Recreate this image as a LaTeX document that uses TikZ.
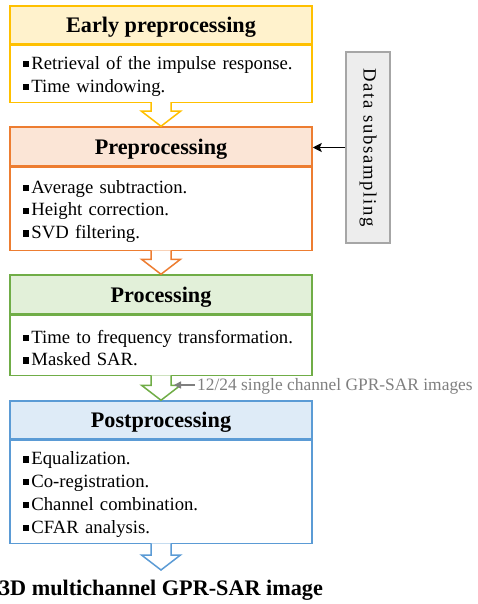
\documentclass[tikz,border=0pt]{standalone}
\usepackage{fontspec}
\setmainfont{Liberation Serif}
\newfontfamily\spacedfont[LetterSpace=9]{Liberation Serif}
\usetikzlibrary{calc,arrows.meta}
\definecolor{yelB}{HTML}{FFC000}\definecolor{yelF}{HTML}{FFF2CC}
\definecolor{orgB}{HTML}{ED7D31}\definecolor{orgF}{HTML}{FBE5D6}
\definecolor{grnB}{HTML}{70AD47}\definecolor{grnF}{HTML}{E2F0D9}
\definecolor{bluB}{HTML}{5B9BD5}\definecolor{bluF}{HTML}{DEEBF7}
\definecolor{dsB}{HTML}{A6A6A6}\definecolor{dsF}{HTML}{EDEDED}
\definecolor{lblG}{HTML}{7F7F7F}
\newcommand{\sqb}{\rule[0.12em]{0.33em}{0.33em}\hspace{0.12em}}
\newcommand{\blockarr}[3]{%
  \draw[#3, line width=1.5pt, fill=white, line join=miter]
    ($(#1.south)+(-10,-1)$) -- ($(#2.north)+(-10,-15)$) -- ($(#2.north)+(-19.5,-15)$)
    -- (#2.north) -- ($(#2.north)+(19.5,-15)$) -- ($(#2.north)+(10,-15)$)
    -- ($(#1.south)+(10,-1)$);}
\tikzset{
  hdr/.style={draw=#1, line width=1.5pt, minimum width=302pt, inner sep=0pt, text depth=0pt,
    font=\fontsize{22.2}{26}\selectfont\bfseries},
  body/.style={draw=#1, line width=1.5pt, fill=white, anchor=north, minimum width=302pt, inner sep=0pt},
  btext/.style={inner sep=0pt, text width=276pt, align=left, yshift=-2.5pt,
    font=\fontsize{18.7}{22.8}\selectfont},
}
\begin{document}
\begin{tikzpicture}[x=1pt,y=-1pt]
\useasboundingbox (0,0) rectangle (477,604);
% box 1
\node[hdr=yelB, fill=yelF, minimum height=38pt] (h1) at (161,25) {Early preprocessing};
\node[body=yelB, minimum height=57pt] (b1) at (h1.south) {};
\node[btext] (t1) at (b1.center) {\sqb Retrieval of the impulse response.\\\sqb Time windowing.};
% box 2
\node[hdr=orgB, fill=orgF, minimum height=39pt] (h2) at (161,146.5) {Preprocessing};
\node[body=orgB, minimum height=83pt] (b2) at (h2.south) {};
\node[btext] (t2) at (b2.center) {\sqb Average subtraction.\\\sqb Height correction.\\\sqb SVD filtering.};
% box 3
\node[hdr=grnB, fill=grnF, minimum height=39pt] (h3) at (161,294.5) {Processing};
\node[body=grnB, minimum height=60pt] (b3) at (h3.south) {};
\node[btext] (t3) at (b3.center) {\sqb Time to frequency transformation.\\\sqb Masked SAR.};
% box 4
\node[hdr=bluB, fill=bluF, minimum height=38pt] (h4) at (161,420) {Postprocessing};
\node[body=bluB, minimum height=103pt] (b4) at (h4.south) {};
\node[btext] (t4) at (b4.center) {\sqb Equalization.\\\sqb Co-registration.\\\sqb Channel combination.\\\sqb CFAR analysis.};
% output
\node[font=\fontsize{22.2}{26}\selectfont\bfseries] (out) at (161,590) {3D multichannel GPR-SAR image};
\coordinate (outtop) at (161,570);
% block arrows
\blockarr{b1}{h2}{yelB}
\blockarr{b2}{h3}{orgB}
\blockarr{b3}{h4}{grnB}
\draw[bluB, line width=1.5pt, fill=white, line join=miter]
    ($(b4.south)+(-10,-1)$) -- ($(outtop)+(-10,-15)$) -- ($(outtop)+(-19.5,-15)$)
    -- (outtop) -- ($(outtop)+(19.5,-15)$) -- ($(outtop)+(10,-15)$)
    -- ($(b4.south)+(10,-1)$);
% data subsampling
\node[rotate=-90, draw=dsB, fill=dsF, line width=1.5pt, minimum width=191pt, minimum height=44pt,
  inner sep=0pt, font=\fontsize{18.7}{22}\selectfont\spacedfont] (ds) at (368,147.5) {Data subsampling};
\draw[line width=1.5pt, -{Stealth[length=9pt,width=9pt,inset=2pt]}] (ds.south) -- (ds.south -| h2.east);
% gray label
\node[anchor=west, inner sep=2pt, text=lblG, font=\fontsize{17.4}{20}\selectfont] (lbl) at (195,386) {12/24 single channel GPR-SAR images};
\coordinate (gt) at (174,385);
\draw[lblG, line width=1.5pt, -{Triangle[length=7pt,width=7pt]}] (lbl.west |- gt) -- (gt);
\end{tikzpicture}
\end{document}
